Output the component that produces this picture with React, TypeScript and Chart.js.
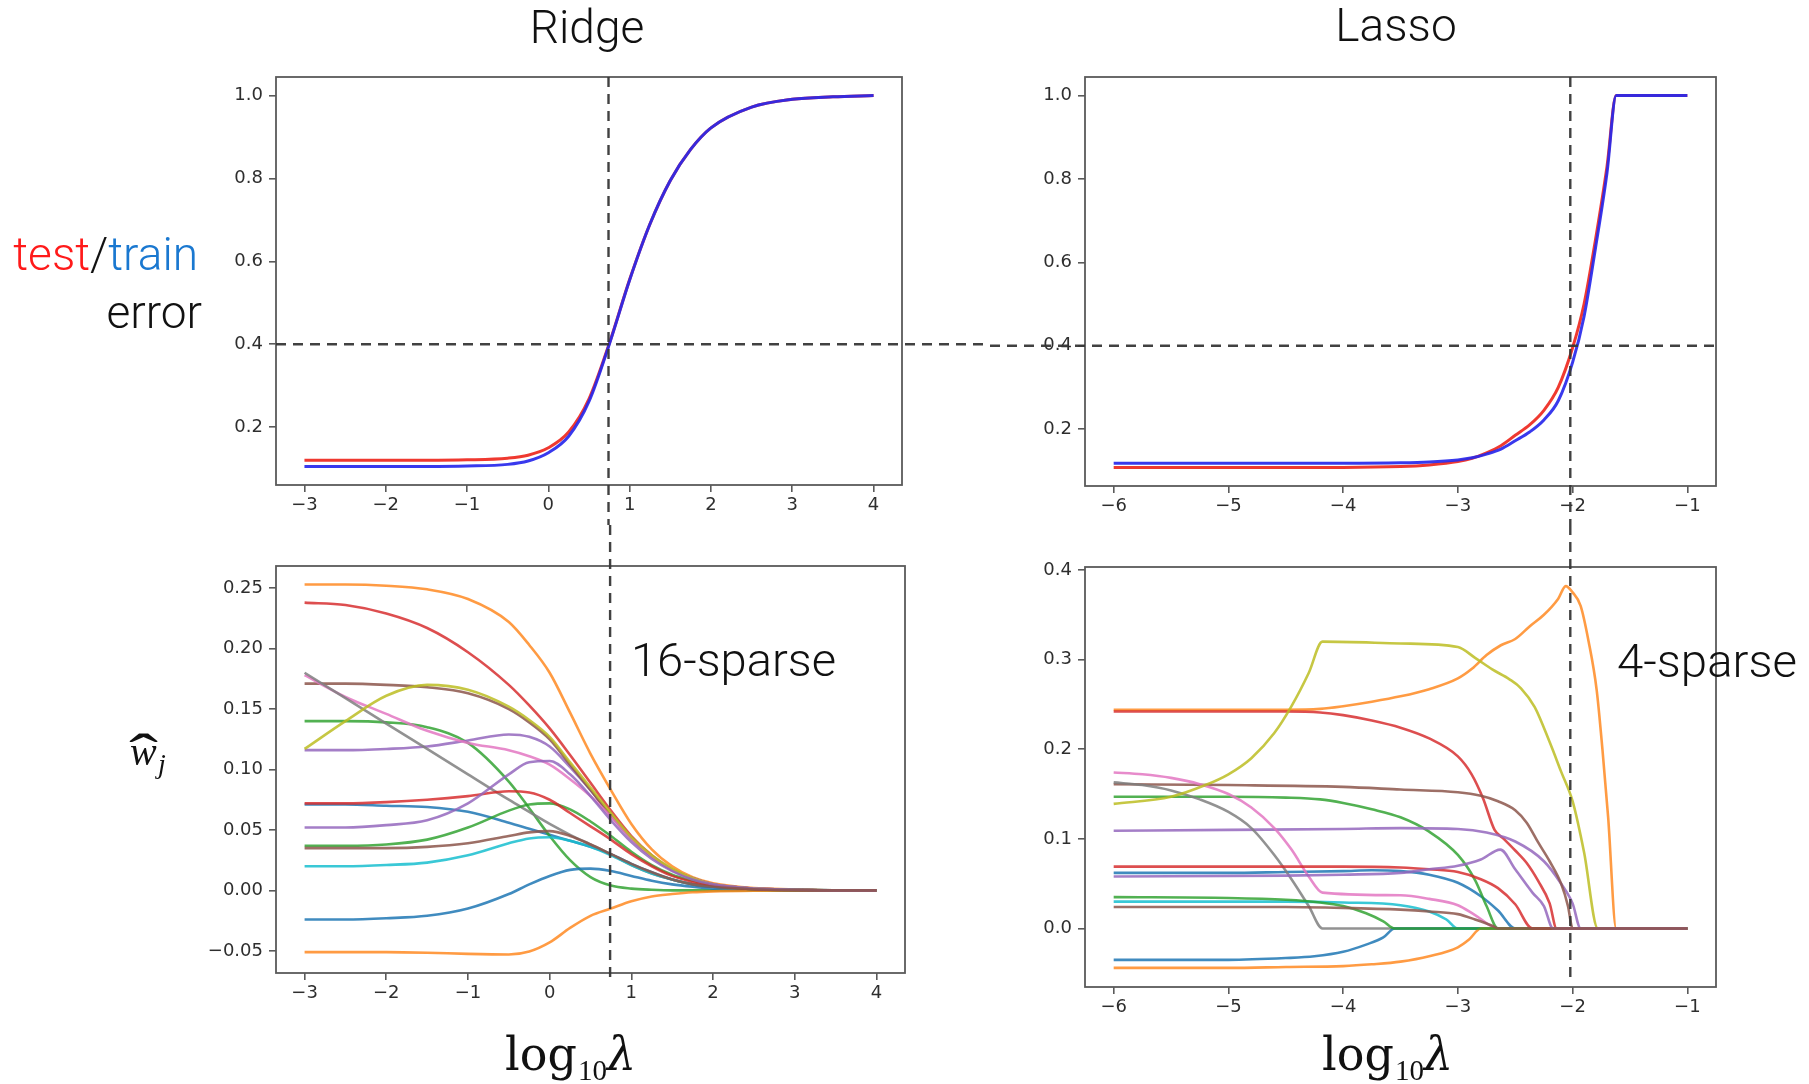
import React, { useEffect, useRef } from "react";
import { Chart, registerables } from "chart.js";

Chart.register(...registerables);

type Pt = [number, number];

// ---------------- Ridge data ----------------
const RIDGE_LOG_LAMBDA = [-3, -2.5, -2, -1.5, -1, -0.5, -0.25, 0, 0.25, 0.5, 0.75, 1, 1.25, 1.5, 1.75, 2, 2.5, 3, 3.5, 4];
const RIDGE_TEST_ERROR = [0.12, 0.12, 0.12, 0.12, 0.121, 0.125, 0.132, 0.15, 0.188, 0.268, 0.402, 0.556, 0.69, 0.795, 0.87, 0.922, 0.972, 0.991, 0.997, 1.0];
const RIDGE_TRAIN_ERROR = [0.105, 0.105, 0.105, 0.105, 0.106, 0.11, 0.118, 0.138, 0.178, 0.262, 0.4, 0.555, 0.69, 0.795, 0.87, 0.922, 0.972, 0.991, 0.997, 1.0];

const RIDGE_W_BLUE_A = [0.071, 0.071, 0.07, 0.069, 0.065, 0.056, 0.051, 0.046, 0.041, 0.036, 0.03, 0.022, 0.015, 0.009, 0.005, 0.003, 0.0008, 0.0002, 0, 0];
const RIDGE_W_ORANGE_A = [0.253, 0.253, 0.252, 0.249, 0.241, 0.222, 0.203, 0.18, 0.147, 0.113, 0.083, 0.055, 0.034, 0.02, 0.011, 0.006, 0.002, 0.001, 0, 0];
const RIDGE_W_GREEN_A = [0.14, 0.14, 0.139, 0.135, 0.122, 0.09, 0.068, 0.045, 0.025, 0.011, 0.004, 0.0015, 0.0005, 0, 0, 0, 0, 0, 0, 0];
const RIDGE_W_RED_A = [0.238, 0.236, 0.229, 0.217, 0.197, 0.17, 0.153, 0.134, 0.112, 0.089, 0.066, 0.045, 0.029, 0.017, 0.01, 0.005, 0.0015, 0.0005, 0, 0];
const RIDGE_W_PURPLE_A = [0.116, 0.116, 0.117, 0.119, 0.124, 0.129, 0.127, 0.119, 0.102, 0.083, 0.062, 0.043, 0.028, 0.017, 0.01, 0.005, 0.0015, 0.0005, 0, 0];
const RIDGE_W_BROWN_A = [0.171, 0.171, 0.17, 0.168, 0.163, 0.15, 0.139, 0.125, 0.104, 0.083, 0.062, 0.043, 0.028, 0.017, 0.01, 0.005, 0.0015, 0.0005, 0, 0];
const RIDGE_W_PINK = [0.178, 0.16, 0.146, 0.132, 0.122, 0.116, 0.111, 0.104, 0.092, 0.078, 0.061, 0.043, 0.028, 0.017, 0.01, 0.005, 0.0015, 0.0005, 0, 0];
const RIDGE_W_GRAY = [0.18, 0.159, 0.138, 0.117, 0.096, 0.075, 0.065, 0.055, 0.046, 0.038, 0.03, 0.021, 0.014, 0.009, 0.005, 0.003, 0.001, 0.0003, 0, 0];
const RIDGE_W_OLIVE = [0.117, 0.14, 0.161, 0.17, 0.166, 0.152, 0.141, 0.127, 0.106, 0.085, 0.064, 0.044, 0.029, 0.018, 0.01, 0.005, 0.0015, 0.0005, 0, 0];
const RIDGE_W_CYAN = [0.02, 0.02, 0.021, 0.023, 0.029, 0.039, 0.043, 0.044, 0.041, 0.036, 0.029, 0.021, 0.014, 0.009, 0.005, 0.003, 0.001, 0.0002, 0, 0];
const RIDGE_W_BLUE_B = [-0.024, -0.024, -0.023, -0.021, -0.015, -0.003, 0.005, 0.012, 0.017, 0.018, 0.016, 0.012, 0.008, 0.005, 0.003, 0.0015, 0.0005, 0.0001, 0, 0];
const RIDGE_W_ORANGE_B = [-0.051, -0.051, -0.051, -0.0515, -0.0525, -0.053, -0.0505, -0.043, -0.031, -0.021, -0.015, -0.009, -0.005, -0.003, -0.0015, -0.0008, -0.0002, 0, 0, 0];
const RIDGE_W_GREEN_B = [0.037, 0.037, 0.038, 0.042, 0.052, 0.066, 0.071, 0.072, 0.067, 0.057, 0.045, 0.032, 0.021, 0.013, 0.008, 0.004, 0.001, 0.0003, 0, 0];
const RIDGE_W_RED_B = [0.072, 0.072, 0.073, 0.075, 0.078, 0.082, 0.081, 0.075, 0.064, 0.053, 0.042, 0.03, 0.02, 0.012, 0.007, 0.004, 0.001, 0.0003, 0, 0];
const RIDGE_W_PURPLE_B = [0.052, 0.052, 0.054, 0.058, 0.072, 0.096, 0.106, 0.107, 0.096, 0.078, 0.058, 0.04, 0.026, 0.016, 0.009, 0.005, 0.0015, 0.0005, 0, 0];
const RIDGE_W_BROWN_B = [0.035, 0.035, 0.035, 0.036, 0.039, 0.045, 0.048, 0.049, 0.045, 0.038, 0.03, 0.022, 0.015, 0.009, 0.005, 0.003, 0.001, 0.0002, 0, 0];

// ---------------- Lasso data ----------------
const LASSO_LOG_LAMBDA = [-6, -5, -4, -3.5, -3.25, -3, -2.875, -2.75, -2.625, -2.5, -2.375, -2.25, -2.125, -2, -1.9, -1.8, -1.7, -1.62, -1.5, -1];
const LASSO_TEST_ERROR = [0.108, 0.108, 0.108, 0.11, 0.114, 0.122, 0.13, 0.143, 0.16, 0.185, 0.21, 0.245, 0.3, 0.395, 0.5, 0.655, 0.83, 1.0, 1.0, 1.0];
const LASSO_TRAIN_ERROR = [0.118, 0.118, 0.118, 0.119, 0.121, 0.126, 0.131, 0.14, 0.152, 0.172, 0.193, 0.222, 0.268, 0.36, 0.47, 0.635, 0.815, 1.0, 1.0, 1.0];

const LASSO_W_BLUE_A: Pt[] = [[-6, 0.062], [-5, 0.062], [-4.5, 0.063], [-4, 0.064], [-3.75, 0.065], [-3.5, 0.064], [-3.25, 0.06], [-3, 0.051], [-2.8, 0.036], [-2.65, 0.02], [-2.5, 0], [-1, 0]];
const LASSO_W_ORANGE_A: Pt[] = [[-6, 0.244], [-5, 0.244], [-4.5, 0.244], [-4.2, 0.245], [-4, 0.248], [-3.75, 0.253], [-3.5, 0.259], [-3.25, 0.267], [-3, 0.279], [-2.875, 0.29], [-2.75, 0.305], [-2.625, 0.316], [-2.5, 0.323], [-2.375, 0.337], [-2.25, 0.35], [-2.125, 0.368], [-2.06, 0.382], [-2, 0.375], [-1.93, 0.36], [-1.86, 0.32], [-1.79, 0.266], [-1.74, 0.2], [-1.69, 0.124], [-1.62, 0], [-1, 0]];
const LASSO_W_GREEN_A: Pt[] = [[-6, 0.147], [-5, 0.147], [-4.5, 0.146], [-4.2, 0.144], [-4, 0.14], [-3.75, 0.133], [-3.5, 0.124], [-3.25, 0.108], [-3, 0.082], [-2.85, 0.054], [-2.75, 0.025], [-2.65, 0], [-1, 0]];
const LASSO_W_RED_A: Pt[] = [[-6, 0.242], [-4.5, 0.242], [-4.2, 0.241], [-4, 0.238], [-3.75, 0.232], [-3.5, 0.224], [-3.25, 0.212], [-3, 0.192], [-2.88, 0.172], [-2.78, 0.145], [-2.68, 0.11], [-2.6, 0.1], [-2.5, 0.087], [-2.4, 0.073], [-2.3, 0.053], [-2.2, 0.028], [-2.14, 0], [-1, 0]];
const LASSO_W_PURPLE_A: Pt[] = [[-6, 0.109], [-5, 0.11], [-4, 0.111], [-3.5, 0.112], [-3, 0.111], [-2.75, 0.107], [-2.5, 0.097], [-2.25, 0.075], [-2.1, 0.05], [-2, 0.028], [-1.93, 0], [-1, 0]];
const LASSO_W_BROWN_A: Pt[] = [[-6, 0.161], [-5, 0.16], [-4, 0.158], [-3.5, 0.155], [-3, 0.152], [-2.8, 0.148], [-2.65, 0.142], [-2.5, 0.132], [-2.4, 0.118], [-2.3, 0.096], [-2.2, 0.075], [-2.1, 0.05], [-2.04, 0.025], [-2, 0], [-1, 0]];
const LASSO_W_PINK: Pt[] = [[-6, 0.174], [-5.75, 0.172], [-5.5, 0.168], [-5.25, 0.161], [-5, 0.15], [-4.8, 0.135], [-4.6, 0.112], [-4.45, 0.088], [-4.3, 0.058], [-4.18, 0.04], [-3.5, 0.037], [-3.25, 0.033], [-3, 0.026], [-2.85, 0.015], [-2.65, 0], [-1, 0]];
const LASSO_W_GRAY: Pt[] = [[-6, 0.163], [-5.75, 0.16], [-5.5, 0.154], [-5.25, 0.144], [-5, 0.13], [-4.8, 0.112], [-4.6, 0.082], [-4.45, 0.055], [-4.3, 0.025], [-4.18, 0], [-1, 0]];
const LASSO_W_OLIVE: Pt[] = [[-6, 0.139], [-5.5, 0.147], [-5.2, 0.16], [-5, 0.172], [-4.8, 0.19], [-4.6, 0.218], [-4.45, 0.248], [-4.3, 0.285], [-4.18, 0.32], [-3.5, 0.318], [-3, 0.314], [-2.85, 0.302], [-2.7, 0.289], [-2.55, 0.278], [-2.45, 0.268], [-2.33, 0.247], [-2.2, 0.208], [-2.1, 0.175], [-2, 0.142], [-1.9, 0.085], [-1.78, 0], [-1, 0]];
const LASSO_W_CYAN: Pt[] = [[-6, 0.03], [-5, 0.03], [-4.5, 0.03], [-4, 0.029], [-3.5, 0.026], [-3.25, 0.019], [-3.1, 0.01], [-3, 0], [-1, 0]];
const LASSO_W_BLUE_B: Pt[] = [[-6, -0.035], [-5, -0.035], [-4.5, -0.033], [-4.25, -0.031], [-4, -0.026], [-3.8, -0.018], [-3.65, -0.01], [-3.55, 0], [-1, 0]];
const LASSO_W_ORANGE_B: Pt[] = [[-6, -0.044], [-5, -0.044], [-4.5, -0.043], [-4, -0.042], [-3.75, -0.04], [-3.5, -0.037], [-3.25, -0.031], [-3, -0.021], [-2.9, -0.012], [-2.8, 0], [-1, 0]];
const LASSO_W_GREEN_B: Pt[] = [[-6, 0.035], [-5, 0.034], [-4.5, 0.032], [-4.2, 0.029], [-4, 0.025], [-3.8, 0.017], [-3.65, 0.008], [-3.55, 0], [-1, 0]];
const LASSO_W_RED_B: Pt[] = [[-6, 0.069], [-4, 0.069], [-3.5, 0.068], [-3.25, 0.066], [-3, 0.063], [-2.8, 0.055], [-2.65, 0.045], [-2.5, 0.027], [-2.35, 0], [-1, 0]];
const LASSO_W_PURPLE_B: Pt[] = [[-6, 0.058], [-4.5, 0.059], [-4, 0.06], [-3.5, 0.062], [-3.25, 0.066], [-3, 0.07], [-2.8, 0.077], [-2.63, 0.088], [-2.5, 0.066], [-2.35, 0.04], [-2.25, 0.025], [-2.17, 0], [-1, 0]];
const LASSO_W_BROWN_B: Pt[] = [[-6, 0.024], [-4.5, 0.024], [-4, 0.023], [-3.5, 0.021], [-3.25, 0.019], [-3, 0.016], [-2.85, 0.01], [-2.7, 0.003], [-2.65, 0], [-1, 0]];

// ---------------- reference values & ticks ----------------
const ERROR_THRESHOLD = 0.4;
const RIDGE_CHOSEN_LOG_LAMBDA = 0.74;
const LASSO_CHOSEN_LOG_LAMBDA = -2.02;

const RIDGE_X_TICKS = [-3, -2, -1, 0, 1, 2, 3, 4];
const RIDGE_X_TICK_LABELS = ["\u22123", "\u22122", "\u22121", "0", "1", "2", "3", "4"];
const LASSO_X_TICKS = [-6, -5, -4, -3, -2, -1];
const LASSO_X_TICK_LABELS = ["\u22126", "\u22125", "\u22124", "\u22123", "\u22122", "\u22121"];
const ERROR_Y_TICKS = [0.2, 0.4, 0.6, 0.8, 1.0];
const ERROR_Y_TICK_LABELS = ["0.2", "0.4", "0.6", "0.8", "1.0"];
const RIDGE_W_Y_TICKS = [-0.05, 0, 0.05, 0.1, 0.15, 0.2, 0.25];
const RIDGE_W_Y_TICK_LABELS = ["\u22120.05", "0.00", "0.05", "0.10", "0.15", "0.20", "0.25"];
const LASSO_W_Y_TICKS = [0, 0.1, 0.2, 0.3, 0.4];
const LASSO_W_Y_TICK_LABELS = ["0.0", "0.1", "0.2", "0.3", "0.4"];

// ---------------- styling ----------------
const TAB = {
  blue: "rgba(31,119,180,0.85)",
  orange: "rgba(255,127,14,0.78)",
  green: "rgba(44,160,44,0.82)",
  red: "rgba(214,39,40,0.82)",
  purple: "rgba(148,103,189,0.85)",
  brown: "rgba(140,86,75,0.85)",
  pink: "rgba(227,119,194,0.85)",
  gray: "rgba(127,127,127,0.85)",
  olive: "rgba(188,189,34,0.85)",
  cyan: "rgba(23,190,207,0.85)",
};
const TEST_COLOR = "rgba(238,40,30,0.92)";
const TRAIN_COLOR = "rgba(40,40,236,0.92)";
const AXIS_COLOR = "#5a5a5a";
const TICK_FONT = { family: "DejaVu Sans", size: 18 };
const XAXIS_H = 38;

type Series = { points: Pt[]; color: string; width: number };
type Box = { left: number; top: number; width: number; height: number };
type Area = { left: number; top: number; right: number; bottom: number };
type VLine = { value: number; from: "plot" | "canvas"; to: "plot" | "canvas"; extend: number };
type HLine = { value: number; from: "plot" | "canvas"; to: "plot" | "canvas" };
type PanelSpec = {
  canvas: Box;
  plot: Area;
  series: Series[];
  xRange: [number, number];
  yRange: [number, number];
  xTicks: number[];
  xTickLabels: string[];
  yTicks: number[];
  yTickLabels: string[];
  vLine?: VLine;
  hLine?: HLine;
};

const zip = (xs: number[], ys: number[]): Pt[] => xs.map((x, i) => [x, ys[i]] as Pt);
const withMargin = (vals: number[], frac = 0.05): [number, number] => {
  const lo = Math.min(...vals);
  const hi = Math.max(...vals);
  const r = hi - lo;
  return [lo - frac * r, hi + frac * r];
};
const ys = (list: Series[]) => list.flatMap((s) => s.points.map((p) => p[1]));

const W_WIDTH = 2.6;
const ridgeCoefSeries: Series[] = [
  [RIDGE_W_BLUE_A, TAB.blue], [RIDGE_W_ORANGE_A, TAB.orange], [RIDGE_W_GREEN_A, TAB.green], [RIDGE_W_RED_A, TAB.red],
  [RIDGE_W_PURPLE_A, TAB.purple], [RIDGE_W_BROWN_A, TAB.brown], [RIDGE_W_PINK, TAB.pink], [RIDGE_W_GRAY, TAB.gray],
  [RIDGE_W_OLIVE, TAB.olive], [RIDGE_W_CYAN, TAB.cyan], [RIDGE_W_BLUE_B, TAB.blue], [RIDGE_W_ORANGE_B, TAB.orange],
  [RIDGE_W_GREEN_B, TAB.green], [RIDGE_W_RED_B, TAB.red], [RIDGE_W_PURPLE_B, TAB.purple], [RIDGE_W_BROWN_B, TAB.brown],
].map(([vals, color]) => ({ points: zip(RIDGE_LOG_LAMBDA, vals as number[]), color: color as string, width: W_WIDTH }));

const lassoCoefSeries: Series[] = [
  [LASSO_W_BLUE_A, TAB.blue], [LASSO_W_ORANGE_A, TAB.orange], [LASSO_W_GREEN_A, TAB.green], [LASSO_W_RED_A, TAB.red],
  [LASSO_W_PURPLE_A, TAB.purple], [LASSO_W_BROWN_A, TAB.brown], [LASSO_W_PINK, TAB.pink], [LASSO_W_GRAY, TAB.gray],
  [LASSO_W_OLIVE, TAB.olive], [LASSO_W_CYAN, TAB.cyan], [LASSO_W_BLUE_B, TAB.blue], [LASSO_W_ORANGE_B, TAB.orange],
  [LASSO_W_GREEN_B, TAB.green], [LASSO_W_RED_B, TAB.red], [LASSO_W_PURPLE_B, TAB.purple], [LASSO_W_BROWN_B, TAB.brown],
].map(([pts, color]) => ({ points: pts as Pt[], color: color as string, width: W_WIDTH }));

const ridgeErrSeries: Series[] = [
  { points: zip(RIDGE_LOG_LAMBDA, RIDGE_TEST_ERROR), color: TEST_COLOR, width: 3 },
  { points: zip(RIDGE_LOG_LAMBDA, RIDGE_TRAIN_ERROR), color: TRAIN_COLOR, width: 3 },
];
const lassoErrSeries: Series[] = [
  { points: zip(LASSO_LOG_LAMBDA, LASSO_TEST_ERROR), color: TEST_COLOR, width: 3 },
  { points: zip(LASSO_LOG_LAMBDA, LASSO_TRAIN_ERROR), color: TRAIN_COLOR, width: 3 },
];

const RIDGE_X_RANGE = withMargin(RIDGE_LOG_LAMBDA);
const LASSO_X_RANGE = withMargin(LASSO_LOG_LAMBDA);

const PANELS: PanelSpec[] = [
  {
    canvas: { left: 190, top: 50, width: 800, height: 475 },
    plot: { left: 276, top: 77, right: 902, bottom: 485 },
    series: ridgeErrSeries,
    xRange: RIDGE_X_RANGE,
    yRange: withMargin(ys(ridgeErrSeries)),
    xTicks: RIDGE_X_TICKS, xTickLabels: RIDGE_X_TICK_LABELS,
    yTicks: ERROR_Y_TICKS, yTickLabels: ERROR_Y_TICK_LABELS,
    vLine: { value: RIDGE_CHOSEN_LOG_LAMBDA, from: "plot", to: "canvas", extend: 0 },
    hLine: { value: ERROR_THRESHOLD, from: "plot", to: "canvas" },
  },
  {
    canvas: { left: 990, top: 50, width: 819, height: 475 },
    plot: { left: 1085, top: 77, right: 1716, bottom: 486 },
    series: lassoErrSeries,
    xRange: LASSO_X_RANGE,
    yRange: withMargin(ys(lassoErrSeries)),
    xTicks: LASSO_X_TICKS, xTickLabels: LASSO_X_TICK_LABELS,
    yTicks: ERROR_Y_TICKS, yTickLabels: ERROR_Y_TICK_LABELS,
    vLine: { value: LASSO_CHOSEN_LOG_LAMBDA, from: "plot", to: "canvas", extend: 0 },
    hLine: { value: ERROR_THRESHOLD, from: "canvas", to: "plot" },
  },
  {
    canvas: { left: 190, top: 525, width: 800, height: 559 },
    plot: { left: 276, top: 566, right: 905, bottom: 973 },
    series: ridgeCoefSeries,
    xRange: RIDGE_X_RANGE,
    yRange: withMargin(ys(ridgeCoefSeries)),
    xTicks: RIDGE_X_TICKS, xTickLabels: RIDGE_X_TICK_LABELS,
    yTicks: RIDGE_W_Y_TICKS, yTickLabels: RIDGE_W_Y_TICK_LABELS,
    vLine: { value: RIDGE_CHOSEN_LOG_LAMBDA, from: "canvas", to: "plot", extend: 9 },
  },
  {
    canvas: { left: 990, top: 525, width: 819, height: 559 },
    plot: { left: 1085, top: 567, right: 1716, bottom: 987 },
    series: lassoCoefSeries,
    xRange: LASSO_X_RANGE,
    yRange: withMargin(ys(lassoCoefSeries)),
    xTicks: LASSO_X_TICKS, xTickLabels: LASSO_X_TICK_LABELS,
    yTicks: LASSO_W_Y_TICKS, yTickLabels: LASSO_W_Y_TICK_LABELS,
    vLine: { value: LASSO_CHOSEN_LOG_LAMBDA, from: "canvas", to: "plot", extend: -3 },
  },
];

const framePlugin = {
  id: "frame",
  afterDatasetsDraw(chart: any) {
    const { ctx, chartArea: a } = chart;
    ctx.save();
    ctx.strokeStyle = AXIS_COLOR;
    ctx.lineWidth = 1.8;
    ctx.strokeRect(a.left, a.top, a.right - a.left, a.bottom - a.top);
    ctx.restore();
  },
};

function makeRefLinesPlugin(spec: PanelSpec) {
  return {
    id: "refLines",
    afterDraw(chart: any) {
      const { ctx, chartArea: a, scales } = chart;
      const W = chart.width;
      const H = chart.height;
      ctx.save();
      ctx.strokeStyle = "rgba(55,55,55,0.95)";
      ctx.lineWidth = 2.4;
      ctx.setLineDash([10, 7]);
      if (spec.vLine) {
        const v = spec.vLine;
        const x = scales.x.getPixelForValue(v.value);
        const y0 = v.from === "canvas" ? 0 : a.top;
        const y1 = v.to === "canvas" ? H : a.bottom + v.extend;
        ctx.beginPath();
        ctx.moveTo(x, y0);
        ctx.lineTo(x, y1);
        ctx.stroke();
      }
      if (spec.hLine) {
        const h = spec.hLine;
        const y = scales.y.getPixelForValue(h.value);
        const x0 = h.from === "canvas" ? 0 : a.left;
        const x1 = h.to === "canvas" ? W : a.right;
        ctx.beginPath();
        ctx.moveTo(x0, y);
        ctx.lineTo(x1, y);
        ctx.stroke();
      }
      ctx.restore();
    },
  };
}

function buildConfig(spec: PanelSpec): any {
  const { canvas, plot } = spec;
  const padTop = plot.top - canvas.top;
  const padRight = canvas.left + canvas.width - plot.right;
  const yAxisW = plot.left - canvas.left;
  const padBottom = canvas.top + canvas.height - plot.bottom - XAXIS_H;
  const n = spec.series.length;
  const grid = {
    display: true,
    drawOnChartArea: false,
    drawTicks: true,
    tickLength: 7,
    color: AXIS_COLOR,
    lineWidth: 1.6,
  };
  return {
    type: "line",
    data: {
      datasets: spec.series.map((s, i) => ({
        data: s.points.map(([x, y]) => ({ x, y })),
        borderColor: s.color,
        borderWidth: s.width,
        pointRadius: 0,
        fill: false,
        cubicInterpolationMode: "monotone",
        borderJoinStyle: "round",
        order: n - i,
      })),
    },
    options: {
      responsive: false,
      animation: false,
      devicePixelRatio: 1,
      events: [],
      layout: { padding: { top: padTop, right: padRight, bottom: padBottom, left: 0 } },
      plugins: { legend: { display: false }, tooltip: { enabled: false } },
      scales: {
        x: {
          type: "linear",
          min: spec.xRange[0],
          max: spec.xRange[1],
          afterBuildTicks: (s: any) => {
            s.ticks = spec.xTicks.map((v) => ({ value: v }));
          },
          afterFit: (s: any) => {
            s.height = XAXIS_H;
          },
          ticks: {
            autoSkip: false,
            maxRotation: 0,
            minRotation: 0,
            padding: 3,
            color: "#2e2e2e",
            font: TICK_FONT,
            callback: (v: number) => spec.xTickLabels[spec.xTicks.indexOf(v)] ?? "",
          },
          grid,
          border: { display: false },
        },
        y: {
          type: "linear",
          min: spec.yRange[0],
          max: spec.yRange[1],
          afterBuildTicks: (s: any) => {
            s.ticks = spec.yTicks.map((v) => ({ value: v }));
          },
          afterFit: (s: any) => {
            s.width = yAxisW;
          },
          ticks: {
            autoSkip: false,
            padding: 6,
            color: "#2e2e2e",
            font: TICK_FONT,
            callback: (v: number) => spec.yTickLabels[spec.yTicks.indexOf(v)] ?? "",
          },
          grid,
          border: { display: false },
        },
      },
    },
    plugins: [framePlugin, makeRefLinesPlugin(spec)],
  };
}

function Panel({ spec }: { spec: PanelSpec }) {
  const ref = useRef<HTMLCanvasElement>(null);
  useEffect(() => {
    const chart = new Chart(ref.current as HTMLCanvasElement, buildConfig(spec));
    return () => chart.destroy();
  }, [spec]);
  const c = spec.canvas;
  return (
    <canvas
      ref={ref}
      width={c.width}
      height={c.height}
      style={{ position: "fixed", left: c.left, top: c.top, width: c.width, height: c.height }}
    />
  );
}

const SANS = "Roboto, 'Liberation Sans', Arial, sans-serif";
const SERIF = "'DejaVu Serif', serif";
const SERIF2 = "'Liberation Serif', serif";

export default function App() {
  return (
    <div>
      {PANELS.map((p, i) => (
        <Panel key={i} spec={p} />
      ))}
      <svg
        width={1809}
        height={1084}
        style={{ position: "fixed", left: 0, top: 0, pointerEvents: "none" }}
      >
        <text x={587} y={43} textAnchor="middle" fontFamily={SANS} fontWeight={300} fontSize={46} fill="#111">Ridge</text>
        <text x={1396} y={41} textAnchor="middle" fontFamily={SANS} fontWeight={300} fontSize={46} fill="#111">Lasso</text>
        <text x={198} y={270} textAnchor="end" fontFamily={SANS} fontWeight={300} fontSize={46}>
          <tspan fill="#ff1a1a">test</tspan>
          <tspan fill="#111">/</tspan>
          <tspan fill="#1a78d0">train</tspan>
        </text>
        <text x={202} y={328} textAnchor="end" fontFamily={SANS} fontWeight={300} fontSize={46} fill="#111">error</text>
        <text fontFamily={SERIF2} fill="#111">
          <tspan x={130} y={765} fontStyle="italic" fontSize={40}>w</tspan>
          <tspan x={158} y={773} fontStyle="italic" fontSize={28}>j</tspan>
        </text>
        <text x={129} y={773} fontFamily={SERIF2} fontSize={56} textLength={29} lengthAdjust="spacingAndGlyphs" fill="#111">{"\u02C6"}</text>
        <text x={631} y={676} fontFamily={SANS} fontWeight={300} fontSize={46} fill="#111" textLength={205} lengthAdjust="spacingAndGlyphs">16-sparse</text>
        <text x={1617} y={677} fontFamily={SANS} fontWeight={300} fontSize={46} fill="#111" textLength={180} lengthAdjust="spacingAndGlyphs">4-sparse</text>
        <text fill="#111">
          <tspan x={505} y={1070} fontFamily={SERIF} fontSize={46}>log</tspan>
          <tspan x={578} y={1080} fontFamily={SERIF2} fontSize={29}>10</tspan>
          <tspan x={607} y={1070} fontFamily={SERIF} fontSize={46} fontStyle="italic">{"\u03BB"}</tspan>
        </text>
        <text fill="#111">
          <tspan x={1322} y={1070} fontFamily={SERIF} fontSize={46}>log</tspan>
          <tspan x={1395} y={1080} fontFamily={SERIF2} fontSize={29}>10</tspan>
          <tspan x={1424} y={1070} fontFamily={SERIF} fontSize={46} fontStyle="italic">{"\u03BB"}</tspan>
        </text>
      </svg>
    </div>
  );
}
